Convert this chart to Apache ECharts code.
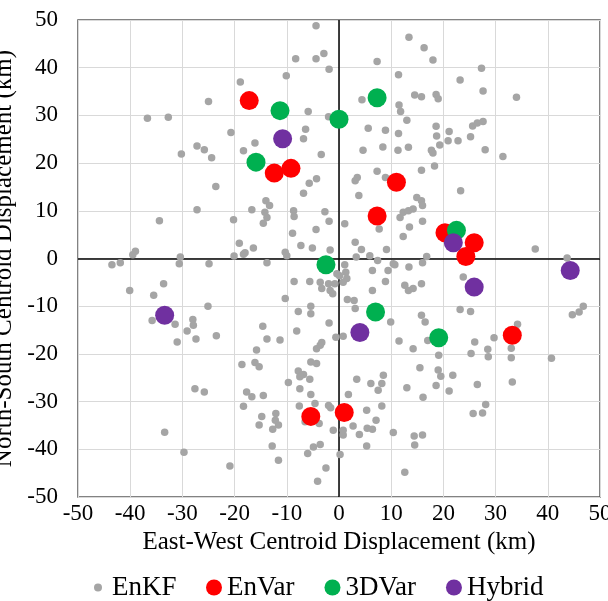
<!DOCTYPE html>
<html>
<head>
<meta charset="utf-8">
<script src="https://cdn.jsdelivr.net/npm/echarts@6/dist/echarts.min.js"></script>
<style>
  html, body { margin: 0; padding: 0; background: #fff; }
  #chart { width: 608px; height: 601px; }
</style>
</head>
<body>
<div id="chart"></div>
<script>
// Storm centroid displacement (km): [east-west, north-south]
const enkf = [
  [-18.9,37.0],[-25.0,32.9],[-36.7,29.4],[-32.7,29.6],[-20.7,26.4],[-27.2,23.6],[-25.8,22.8],[-30.2,21.9],[-24.4,21.1],[-18.3,22.6],
  [-4.4,48.8],[-8.3,41.9],[-4.4,41.9],[-2.9,43.0],[-1.9,39.7],[-10.1,38.3],[-5.9,30.8],[-2.0,29.7],[-6.4,27.1],[-6.8,25.1],[-16.1,24.2],[-3.4,21.8],[-4.3,16.7],
  [13.4,46.4],[16.3,44.2],[7.3,41.3],[11.4,38.5],[4.4,33.3],[14.5,34.3],[15.8,33.9],[11.5,32.2],[11.8,30.8],[13.0,29.0],[5.6,27.3],[8.9,26.9],[11.4,26.2],[4.6,22.7],[8.4,23.4],[11.3,22.7],[13.3,23.3],[3.5,17.0],[7.3,18.3],[8.9,17.0],[15.8,18.5],
  [18.0,41.6],[27.3,39.9],[23.2,37.4],[27.6,35.1],[34.0,33.8],[18.6,34.4],[19.0,33.5],[18.6,27.7],[18.7,25.7],[21.1,26.6],[20.9,24.7],[22.8,24.7],[19.3,23.8],[25.2,25.5],[25.6,27.8],[26.5,28.4],[27.6,28.7],[17.7,22.7],[18.0,22.1],[28.0,22.8],[31.4,21.4],[18.3,19.4],
  [-23.6,15.1],[-27.2,10.2],[-34.4,7.9],[-20.2,8.1],[-19.1,3.2],[-20.1,0.5],[-18.3,0.9],[-39.0,1.5],[-39.5,0.8],[-41.9,-0.9],[-43.5,-1.3],[-30.4,0.3],[-30.6,-1.1],[-24.9,-1.1],[-33.6,-5.3],[-40.1,-6.7],[-35.5,-7.7],[-25.1,-10.0],[-35.8,-13.0],[-31.4,-13.8],[-28.0,-12.8],[-27.9,-14.0],[-29.1,-15.2],[-27.4,-16.9],[-23.5,-16.2],[-31.0,-17.5],
  [-18.6,-22.2],[-27.6,-27.3],[-25.8,-28.0],[-18.3,-31.0],[-33.4,-36.4],[-29.7,-40.6],[-20.9,-43.5],
  [-5.7,15.8],[-6.8,13.7],[-14.0,12.1],[-13.3,11.1],[-16.7,10.2],[-14.2,9.7],[-13.8,8.6],[-14.5,7.4],[-8.7,10.0],[-8.6,8.8],[-2.7,9.8],[-1.9,7.8],[-4.4,6.1],[-8.9,5.3],[1.1,7.3],[-7.3,2.7],[-5.1,2.2],[-1.7,1.8],[-16.4,2.2],[-18.0,1.2],[-10.3,1.3],[-10.0,0.6],[-13.8,-0.9],
  [1.1,-1.3],[1.3,-2.9],[0.1,-3.6],[1.5,-4.2],[0.8,-5.0],[3.1,3.4],[4.3,1.9],[3.3,0.3],[5.9,0.6],[3.8,13.2],[3.1,16.3],[7.7,6.2],[9.1,1.9],[7.4,-0.4],[6.4,-2.5],[8.9,-4.8],[6.4,-6.7],[2.9,-8.8],[3.1,-10.5],[1.6,-8.6],
  [-1.7,-6.7],[-1.2,-7.4],[-3.6,-5.0],[-3.3,-6.3],[-2.0,-5.3],[-0.8,-5.3],[-0.4,-3.2],[-5.6,-4.8],[-8.6,-4.8],[-10.3,-8.4],[-5.4,-10.0],[-5.4,-11.6],[-7.8,-11.1],[-1.9,-13.5],[-14.6,-14.2],[-8.1,-15.2],[-11.3,-17.1],
  [9.9,-13.3],[13.4,-1.8],[10.4,-1.1],[9.4,-2.5],[12.6,-5.6],[13.3,-6.7],[14.2,-6.3],[15.8,-5.3],[12.3,4.6],[13.5,6.6],[11.7,8.6],[12.3,9.7],[13.3,10.0],[14.2,10.4],[14.9,12.8],[15.8,12.1],[15.8,-11.9],[16.5,-13.3],[10.7,-1.3],
  [23.3,14.2],[16.0,11.1],[16.0,7.8],[16.8,0.4],[16.0,-0.9],[37.6,2.0],[43.7,0.1],[23.8,-3.9],[46.8,-10.0],[46.0,-11.2],[44.7,-11.8],[23.2,-10.7],[25.2,-11.1],[34.2,-13.8],[29.7,-16.6],[17.0,-17.2],
  [26.0,-17.5],[25.3,-19.9],[28.5,-19.0],[28.6,-20.6],[33.0,-18.8],[33.0,-20.8],[40.7,-20.9],[19.1,-20.3],[15.5,-22.9],[19.0,-23.4],[19.5,-24.7],[21.8,-24.5],[18.6,-26.6],[21.1,-27.8],[26.5,-26.4],[33.2,-25.9],[16.1,-29.1],[28.1,-30.6],[25.7,-32.5],[27.5,-32.4],[16.0,-37.0],
  [-13.8,-16.9],[-4.3,-18.9],[-3.6,-18.2],[-3.3,-17.6],[-0.6,-16.5],[0.8,-16.3],[-15.8,-19.2],[11.5,-17.3],[14.2,-18.9],[-16.1,-21.8],[-15.3,-22.7],[-5.4,-21.7],[-4.3,-22.0],[-7.8,-23.6],[-6.8,-24.3],[-7.5,-24.8],[-5.6,-25.3],[-9.7,-26.0],[-7.5,-27.3],[-5.4,-28.5],[-17.7,-28.0],[-16.7,-29.0],[-14.5,-28.7],
  [-7.6,-30.9],[-4.6,-30.4],[-2.0,-30.8],[-1.6,-31.3],[1.8,-28.5],[3.4,-25.3],[6.1,-26.2],[8.2,-26.2],[8.5,-24.5],[7.5,-27.6],[13.0,-27.1],[8.2,-30.9],[5.3,-31.8],[7.1,-33.9],[5.4,-35.6],[6.4,-35.8],[2.7,-35.1],[3.9,-36.9],[0.8,-37.0],[0.8,-36.0],[-1.1,-36.0],[10.4,-36.5],[14.4,-37.2],[14.5,-39.1],[5.3,-39.3],[0.2,-41.1],[-2.5,-43.9],[-4.1,-46.7],[12.6,-44.8],
  [-14.8,-33.1],[-15.3,-34.9],[-12.1,-32.5],[-12.2,-33.9],[-12.7,-35.8],[-11.6,-34.9],[-12.8,-39.3],[-11.6,-42.3],[-6.0,-40.9],[-4.9,-39.5],[-3.6,-39.0],[-6.5,-34.2],[-3.8,-34.6]
];
const enVar = [
  [-17.2,33.1],[-12.4,17.9],[-9.2,18.9],[11.0,16.0],[7.3,8.9],[20.3,5.4],[25.9,3.3],[24.3,0.4],[33.2,-16.1],[-5.4,-33.1],[1.0,-32.3]
];
const threeDVar = [
  [-11.3,31.0],[0.0,29.2],[7.3,33.7],[-15.9,20.2],[22.5,5.9],[-2.5,-1.3],[7.0,-11.2],[19.1,-16.6]
];
const hybrid = [
  [-10.8,25.1],[21.9,3.3],[44.3,-2.5],[25.9,-6.0],[-33.4,-11.9],[4.0,-15.5]
];
const seriesNames = ['EnKF', 'EnVar', '3DVar', 'Hybrid'];
const xTitle = 'East-West Centroid Displacement (km)';
const yTitle = 'North-South Centroid Displacement (km)';

const FONT = '"Liberation Serif", "Times New Roman", serif';
const chart = echarts.init(document.getElementById('chart'), null, { renderer: 'canvas' });

const axisCommon = {
  type: 'value', min: -50, max: 50, interval: 10,
  nameLocation: 'middle',
  nameTextStyle: { fontFamily: FONT, fontSize: 25, color: '#000' },
  axisLine: { show: false },
  axisTick: { show: false },
  splitLine: { show: true, lineStyle: { color: '#D9D9D9', width: 1 } },
  axisLabel: { fontFamily: FONT, fontSize: 23, color: '#000' }
};

chart.setOption({
  animation: false,
  backgroundColor: '#fff',
  grid: {
    left: 78, right: 8, top: 20, bottom: 104,
    outerBoundsMode: 'none', containLabel: false,
    show: true, borderColor: '#595959', borderWidth: 1.5, backgroundColor: 'transparent'
  },
  xAxis: Object.assign({}, axisCommon, {
    name: xTitle, nameGap: 32,
    axisLabel: Object.assign({}, axisCommon.axisLabel, { margin: 5 })
  }),
  yAxis: Object.assign({}, axisCommon, {
    name: yTitle, nameGap: 51,
    axisLabel: Object.assign({}, axisCommon.axisLabel, { margin: 20 })
  }),
  legend: [
    {
      data: [{ name: seriesNames[0], icon: 'circle' }],
      left: 94, top: 574, padding: 0,
      itemWidth: 8, itemHeight: 8, selectedMode: false,
      textStyle: { fontFamily: FONT, fontSize: 27, color: '#000', padding: [0, 0, 0, 5] }
    },
    {
      data: seriesNames.slice(1).map(n => ({ name: n, icon: 'circle' })),
      left: 206, top: 574, padding: 0,
      itemWidth: 16, itemHeight: 16, itemGap: 30, selectedMode: false,
      textStyle: { fontFamily: FONT, fontSize: 27, color: '#000' }
    }
  ],
  series: [
    {
      name: 'zero-lines', type: 'scatter', data: [], silent: true, z: 1,
      markLine: {
        silent: true, symbol: 'none', z: 1,
        label: { show: false },
        lineStyle: { color: '#000', width: 1.5, type: 'solid' },
        data: [{ xAxis: 0 }, { yAxis: 0 }]
      }
    },
    {
      name: seriesNames[0], type: 'scatter', data: enkf, symbol: 'circle', symbolSize: 7.5,
      itemStyle: { color: '#A5A5A5', opacity: 1 }
    },
    {
      name: seriesNames[1], type: 'scatter', data: enVar, symbol: 'circle', symbolSize: 19,
      itemStyle: { color: '#FF0000', opacity: 1 }
    },
    {
      name: seriesNames[2], type: 'scatter', data: threeDVar, symbol: 'circle', symbolSize: 19,
      itemStyle: { color: '#00B050', opacity: 1 }
    },
    {
      name: seriesNames[3], type: 'scatter', data: hybrid, symbol: 'circle', symbolSize: 19,
      itemStyle: { color: '#7030A0', opacity: 1 }
    }
  ]
});
</script>
</body>
</html>
